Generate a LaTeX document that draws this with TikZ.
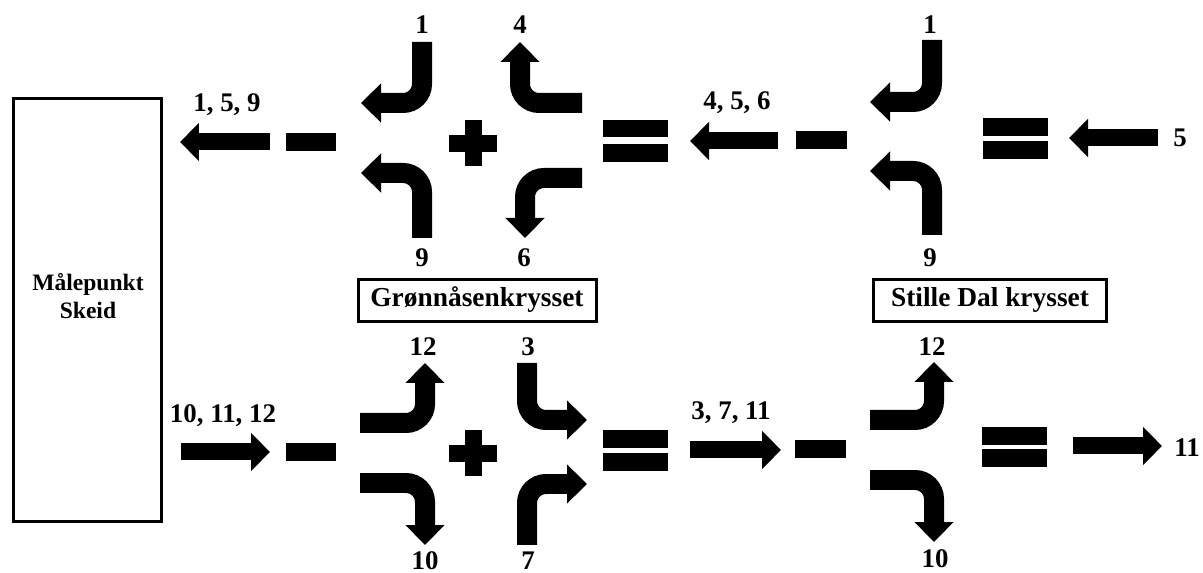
\documentclass[tikz,border=0pt]{standalone}
\usepackage{fontspec}
\setmainfont{Liberation Serif}
\usetikzlibrary{arrows.meta}
\begin{document}
\begin{tikzpicture}[x=0.02cm,y=-0.02cm,
  lbl/.style={font=\fontsize{15.3}{18}\selectfont\bfseries, inner sep=0pt},
  boxlbl/.style={font=\fontsize{15.6}{18}\selectfont\bfseries, inner sep=0pt},
  frame/.style={draw=black, line width=0.065cm},
  turn/.style={line width=0.4cm, rounded corners=0.38cm,
    -{Triangle[length=0.4cm,width=0.76cm]}},
  flow/.style={line width=0.34cm, -{Triangle[length=0.38cm,width=0.74cm]}},
  sign/.style={fill=black}
]
\useasboundingbox (0,0) rectangle (1203,573);
\fill[white] (0,0) rectangle (1203,573);

% measuring point
\draw[frame] (13.5,98.5) rectangle (161.5,521.5);
\node[font=\fontsize{13.4}{15.5}\selectfont\bfseries, align=center, inner sep=0pt]
  (skeid) at (88,296) {Målepunkt\\Skeid};

% ---------- upper row: traffic towards Skeid ----------
\coordinate (ua1s) at (270,142); \coordinate (ua1e) at (180,142);
\draw[flow] (ua1s) -- (ua1e);
\node[lbl] (ul1) at (227,105) {1, 5, 9};
\fill[sign] (286,133) rectangle (336,151);

% Grønnåsen turns (upper)
\coordinate (g1s) at (422,42);  \coordinate (g1e) at (361,103);
\coordinate (g9s) at (422,238); \coordinate (g9e) at (361,173);
\coordinate (g4s) at (582,103); \coordinate (g4e) at (520,42);
\coordinate (g6s) at (582,178); \coordinate (g6e) at (525,238);
\draw[turn] (g1s) |- (g1e);
\draw[turn] (g9s) |- (g9e);
\draw[turn] (g4s) -| (g4e);
\draw[turn] (g6s) -| (g6e);
\node[lbl] (gn1) at (422,25) {1};
\node[lbl] (gn4) at (520,25) {4};
\node[lbl] (gn9) at (422,258) {9};
\node[lbl] (gn6) at (524,258) {6};
\fill[sign] (449,135) rectangle (497,152);
\fill[sign] (465,120) rectangle (482,166);

% equals
\fill[sign] (603,120) rectangle (668,137);
\fill[sign] (603,144) rectangle (668,162);

\coordinate (ua2s) at (778,141); \coordinate (ua2e) at (690,141);
\draw[flow] (ua2s) -- (ua2e);
\node[lbl] (ul2) at (737,103) {4, 5, 6};
\fill[sign] (796,131) rectangle (847,149);

% Stille Dal turns (upper)
\coordinate (s1s) at (932,40);  \coordinate (s1e) at (870,102);
\coordinate (s9s) at (932,235); \coordinate (s9e) at (870,171);
\draw[turn] (s1s) |- (s1e);
\draw[turn] (s9s) |- (s9e);
\node[lbl] (sn1) at (930,25) {1};
\node[lbl] (sn9) at (930,258) {9};

\fill[sign] (983,118) rectangle (1048,136);
\fill[sign] (983,141) rectangle (1048,159);

\coordinate (ua3s) at (1158,138); \coordinate (ua3e) at (1069,138);
\draw[flow] (ua3s) -- (ua3e);
\node[lbl] (ul3) at (1180,138) {5};

% junction names
\draw[frame] (358.5,279.5) rectangle (596.5,321.5);
\node[boxlbl] (gron) at (477,300) {Grønnåsenkrysset};
\draw[frame] (873.5,279.5) rectangle (1106.5,321.5);
\node[boxlbl] (stille) at (990,300) {Stille Dal krysset};

% ---------- lower row: traffic from Skeid ----------
\coordinate (la1s) at (181,452); \coordinate (la1e) at (270,452);
\draw[flow] (la1s) -- (la1e);
\node[lbl] (ll1) at (223,416) {10, 11, 12};
\fill[sign] (286,443) rectangle (336,461);

% Grønnåsen turns (lower)
\coordinate (g12s) at (360,423); \coordinate (g12e) at (425,363);
\coordinate (g10s) at (360,483); \coordinate (g10e) at (425,545);
\coordinate (g3s) at (527,363);  \coordinate (g3e) at (587,420);
\coordinate (g7s) at (527,545);  \coordinate (g7e) at (587,484);
\draw[turn] (g12s) -| (g12e);
\draw[turn] (g10s) -| (g10e);
\draw[turn] (g3s) |- (g3e);
\draw[turn] (g7s) |- (g7e);
\node[lbl] (gn12) at (423,347) {12};
\node[lbl] (gn10) at (425,561) {10};
\node[lbl] (gn3) at (528,347) {3};
\node[lbl] (gn7) at (528,561) {7};
\fill[sign] (449,445) rectangle (497,462);
\fill[sign] (465,430) rectangle (482,476);

\fill[sign] (603,430) rectangle (668,448);
\fill[sign] (603,453) rectangle (668,471);

\coordinate (la2s) at (690,450); \coordinate (la2e) at (781,450);
\draw[flow] (la2s) -- (la2e);
\node[lbl] (ll2) at (731,413) {3, 7, 11};
\fill[sign] (795,440) rectangle (846,458);

% Stille Dal turns (lower)
\coordinate (s12s) at (870,420); \coordinate (s12e) at (934,362);
\coordinate (s10s) at (870,480); \coordinate (s10e) at (934,542);
\draw[turn] (s12s) -| (s12e);
\draw[turn] (s10s) -| (s10e);
\node[lbl] (sn12) at (932,347) {12};
\node[lbl] (sn10) at (935,559) {10};

\fill[sign] (982,427) rectangle (1047,445);
\fill[sign] (982,449) rectangle (1047,467);

\coordinate (la3s) at (1073,446); \coordinate (la3e) at (1162,446);
\draw[flow] (la3s) -- (la3e);
\node[lbl] (ll3) at (1187,448) {11};
\end{tikzpicture}
\end{document}
